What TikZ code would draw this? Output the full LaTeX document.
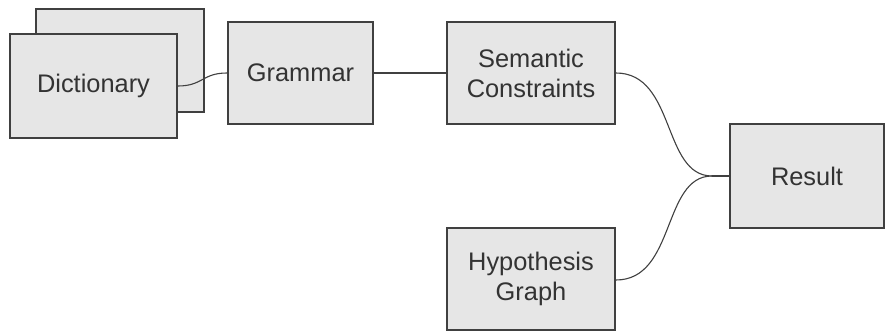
\documentclass[tikz,border=0pt]{standalone}
\usepackage{fontspec}
\setmainfont{Liberation Sans}
\definecolor{boxfill}{HTML}{E6E6E6}
\definecolor{boxline}{HTML}{404040}
\definecolor{txt}{HTML}{333333}
\begin{document}
\begin{tikzpicture}[x=0.5pt,y=-0.5pt,
  blk/.style={draw=boxline,fill=boxfill,line width=0.9pt,rectangle,inner sep=0pt,
    text=txt,align=center,font=\fontsize{12.7}{15}\selectfont},
  conn/.style={draw=boxline,line width=0.55pt}]
\useasboundingbox (0,0) rectangle (888,331);
\node[blk,minimum width=84pt,minimum height=51.5pt] (dictback) at (120,60.5) {};
\node[blk,minimum width=83.5pt,minimum height=52pt] (dict) at (93.5,86) {Dictionary};
\node[blk,minimum width=72.5pt,minimum height=51pt] (gram) at (300.5,73) {Grammar};
\node[blk,minimum width=84pt,minimum height=51pt] (sem) at (531,73) {Semantic\\Constraints};
\node[blk,minimum width=84pt,minimum height=51pt] (hyp) at (531,279) {Hypothesis\\Graph};
\node[blk,minimum width=77pt,minimum height=52pt] (res) at (807,176) {Result};
\coordinate (j) at (712,176);
\draw[conn] (dict.east) .. controls +(25,0) and +(-25,0) .. (gram.west);
\draw[conn] (gram.east) -- (sem.west);
\draw[conn] (sem.east |- 0,73) .. controls +(60,0) and +(-50,0) .. (j);
\draw[conn] (hyp.east |- 0,280) .. controls +(60,0) and +(-50,0) .. (j);
\draw[conn,line width=1pt] (j) -- (res.west);
\end{tikzpicture}
\end{document}
